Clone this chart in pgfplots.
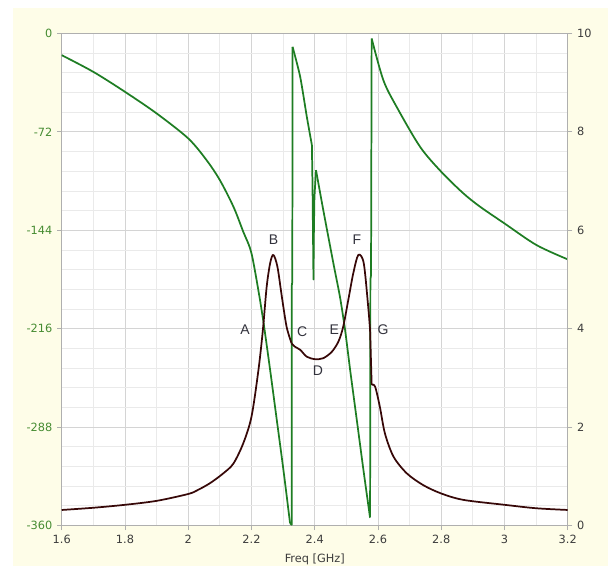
\documentclass[border=0pt]{standalone}
\usepackage{pgfplots}
\pgfplotsset{compat=1.18}
\usepackage{fontspec}
\setmainfont{DejaVu Sans}
\newfontfamily\arialfont{Liberation Sans}
\definecolor{cream}{RGB}{254,253,232}
\definecolor{phasegreen}{RGB}{30,125,35}
\definecolor{labelgreen}{RGB}{70,140,50}
\definecolor{delaybrown}{RGB}{55,8,8}
\definecolor{gridmajor}{RGB}{212,212,212}
\definecolor{gridminor}{RGB}{234,234,234}
\definecolor{axisgray}{RGB}{175,175,175}
\definecolor{ticktext}{RGB}{60,60,60}

\begin{document}
\begin{tikzpicture}
\useasboundingbox (-46.3pt,-37.1pt) rectangle (411.2pt,394.1pt);
\fill[white] (-46.3pt,-37.1pt) rectangle (411.2pt,394.1pt);
\fill[cream] (-36.5pt,-30.4pt) rectangle (409.7pt,388.1pt);

\pgfplotsset{
  chartbase/.style={
    at={(0pt,0pt)}, anchor=south west,
    scale only axis, width=379.5pt, height=369pt,
    xmin=1.6, xmax=3.2,
    axis line style={axisgray, line width=0.6pt},
    tick style={axisgray, line width=0.6pt},
    tick align=outside, major tick length=3.5pt, minor tick length=0pt,
    ticklabel style={font=\fontsize{8.5}{10}\selectfont},
    /pgf/number format/assume math mode=true,
  },
  phase/.style={phasegreen, line width=1.3pt, line join=round},
  delay/.style={delaybrown, line width=1.3pt, line join=round},
}

\begin{axis}[
  chartbase,
  axis background/.style={fill=white},
  ymin=-360, ymax=0,
  xtick={1.6,1.8,2,2.2,2.4,2.6,2.8,3,3.2},
  ytick={-360,-288,-216,-144,-72,0},
  xtick pos=bottom, ytick pos=left,
  minor x tick num=1, minor y tick num=4,
  grid=both,
  major grid style={gridmajor, line width=0.6pt},
  minor grid style={gridminor, line width=0.6pt},
  xticklabel style={text=ticktext},
  yticklabel style={text=labelgreen},
  xlabel={Freq [GHz]},
  xlabel style={font=\fontsize{8.5}{10}\selectfont, text=ticktext, yshift=-1pt},
]
% phase, smooth pieces
\addplot[phase, smooth, tension=0.5] coordinates {
(1.600,-15.9) (1.700,-28.1) (1.800,-42.7) (1.900,-58.5) (2.000,-76.8)
(2.058,-92.7) (2.100,-107.3) (2.143,-126.8) (2.174,-145.1) (2.200,-160.9)
(2.227,-195.0) (2.237,-209.7) (2.259,-246.3) (2.280,-282.8) (2.301,-319.4) (2.322,-358.4)};
\addplot[phase] coordinates {
(2.322,-358.4) (2.327,-359.5) (2.327,-185.0) (2.329,-182.0) (2.330,-9.8)};
\addplot[phase, smooth, tension=0.4] coordinates {
(2.330,-9.8) (2.354,-31.7) (2.375,-61.0) (2.391,-81.7)};
\addplot[phase] coordinates {
(2.391,-81.7) (2.393,-112.0) (2.396,-180.0) (2.397,-150.0) (2.399,-120.0) (2.404,-100.0)};
\addplot[phase, smooth, tension=0.4] coordinates {
(2.404,-100.0) (2.427,-129.2) (2.459,-168.2) (2.480,-193.0) (2.496,-217.0)
(2.512,-246.3) (2.533,-282.8) (2.554,-319.4) (2.573,-351.1) (2.575,-354.0)};
\addplot[phase] coordinates {
(2.575,-354.0) (2.576,-180.0) (2.578,-177.0) (2.580,-3.7)};
\addplot[phase, smooth, tension=0.5] coordinates {
(2.580,-3.7) (2.617,-34.2) (2.659,-53.7) (2.733,-82.9) (2.800,-101.2)
(2.870,-117.0) (2.923,-126.8) (3.000,-139.0) (3.101,-154.8) (3.200,-165.3)};
\node[anchor=south west, text=labelgreen, font=\fontsize{8.5}{10}\selectfont, inner sep=0pt, yshift=5pt] at (rel axis cs:0,1) {Phase[deg]};
\node[anchor=south east, text=ticktext, font=\fontsize{8.5}{10}\selectfont, inner sep=0pt, yshift=5pt] at (rel axis cs:1,1) {Delay[nS]};
\end{axis}

\begin{axis}[
  chartbase,
  ymin=0, ymax=10,
  axis x line=none, axis y line*=right,
  ytick={0,2,4,6,8,10},
  ytick pos=right,
  yticklabel style={text=ticktext},
]
\addplot[delay, smooth, tension=0.5] coordinates {
(1.600,0.315) (1.700,0.36) (1.800,0.42) (1.900,0.50) (2.000,0.64) (2.030,0.72)
(2.069,0.86) (2.111,1.06) (2.143,1.26) (2.174,1.67) (2.200,2.21) (2.222,3.16)
(2.236,3.97) (2.248,4.85) (2.259,5.33) (2.269,5.50) (2.282,5.26) (2.296,4.65)
(2.311,4.04) (2.327,3.70)};
\addplot[delay, smooth, tension=0.5] coordinates {
(2.327,3.70) (2.338,3.63) (2.354,3.57) (2.375,3.43) (2.401,3.38) (2.427,3.40)
(2.454,3.53) (2.475,3.74) (2.490,4.04) (2.506,4.58) (2.522,5.13) (2.538,5.50)
(2.555,5.33) (2.569,4.45) (2.575,3.97)};
\addplot[delay] coordinates {(2.575,3.97) (2.580,2.86)};
\addplot[delay, smooth, tension=0.5] coordinates {
(2.580,2.86) (2.591,2.82) (2.606,2.41) (2.622,1.87) (2.649,1.40) (2.691,1.06)
(2.743,0.82) (2.800,0.65) (2.870,0.52) (3.000,0.42) (3.100,0.35) (3.200,0.315)};
\begin{scope}[font=\arialfont\fontsize{10.5}{12}\selectfont, text={rgb,255:red,50;green,50;blue,60}]
\node at (axis cs:2.18,3.97) {A};
\node at (axis cs:2.27,5.80) {B};
\node at (axis cs:2.36,3.93) {C};
\node at (axis cs:2.41,3.15) {D};
\node at (axis cs:2.462,3.97) {E};
\node at (axis cs:2.533,5.80) {F};
\node at (axis cs:2.616,3.97) {G};
\end{scope}
\end{axis}
\end{tikzpicture}
\end{document}
